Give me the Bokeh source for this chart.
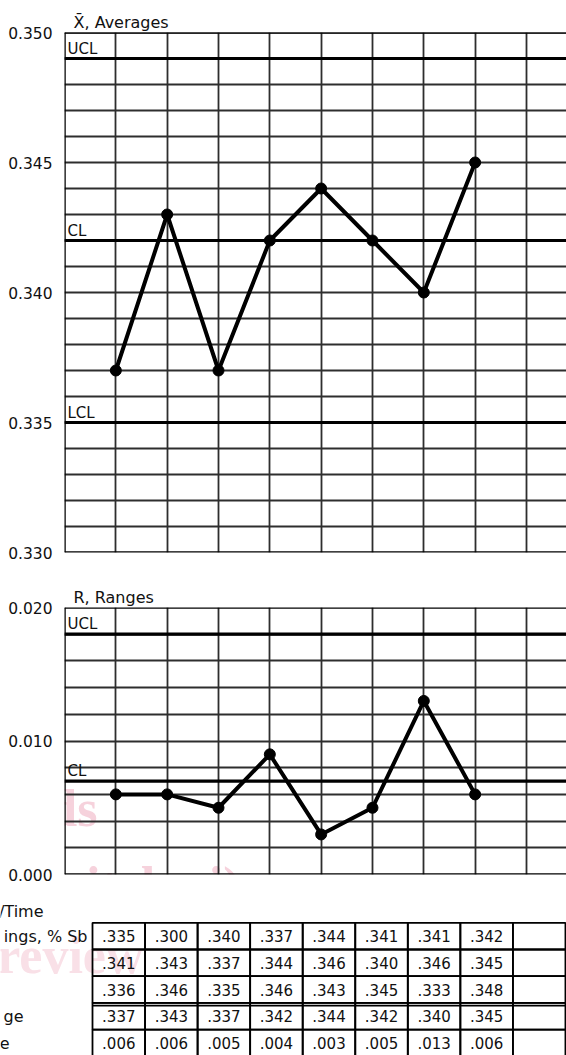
import numpy as np
from bokeh.plotting import figure
from bokeh.models import Range1d, FixedTicker, NumeralTickFormatter, Span, Label
from bokeh.layouts import column
from bokeh.embed import file_html
from bokeh.resources import INLINE
from bokeh.core.properties import value

# ---------------- data ----------------
subgroups = [1, 2, 3, 4, 5, 6, 7, 8]
xbar = [0.337, 0.343, 0.337, 0.342, 0.344, 0.342, 0.340, 0.345]
xbar_limits = {"UCL": 0.349, "CL": 0.342, "LCL": 0.335}
xbar_ticks = [0.330, 0.335, 0.340, 0.345, 0.350]

ranges = [0.006, 0.006, 0.005, 0.009, 0.003, 0.005, 0.013, 0.006]
r_limits = {"UCL": 0.018, "CL": 0.007}
r_ticks = [0.000, 0.010, 0.020]

reading_1 = [0.335, 0.300, 0.340, 0.337, 0.344, 0.341, 0.341, 0.342]
reading_2 = [0.341, 0.343, 0.337, 0.344, 0.346, 0.340, 0.346, 0.345]
reading_3 = [0.336, 0.346, 0.335, 0.346, 0.343, 0.345, 0.333, 0.348]
table_average = [0.337, 0.343, 0.337, 0.342, 0.344, 0.342, 0.340, 0.345]
table_range = [0.006, 0.006, 0.005, 0.004, 0.003, 0.005, 0.013, 0.006]
row_labels = ["/Time", "ings, % Sb", "ge", "e"]
row_label_rows = [-0.42, 0.5, 3.5, 4.5]

# ---------------- style / layout ----------------
FONT = "DejaVu Sans"
TXT = "#111111"
GRID = "#2e2e2e"
W = 566
LEFT = 64
COL_PX = 51.33
N_COLS = 9
row_label_right = [43, 87, 23, 9]   # canvas px of right edges of the (cropped) row labels


def chart(height, top, bottom, y0, y1, step, ticks, title, limits, xs, ys):
    p = figure(width=W, height=height, output_backend="svg", toolbar_location=None,
               x_axis_location=None, min_border_left=LEFT, min_border_right=0,
               min_border_top=top, min_border_bottom=bottom,
               x_range=Range1d(0, (W - LEFT) / COL_PX), y_range=Range1d(y0, y1))
    p.outline_line_color = None
    p.title.text = title
    p.title.align = "left"
    p.title.offset = 9
    p.title.standoff = 2
    p.title.text_font = FONT
    p.title.text_font_size = "16px"
    p.title.text_font_style = "normal"
    p.title.text_color = TXT
    ax = p.yaxis[0]
    ax.ticker = FixedTicker(ticks=ticks)
    ax.formatter = NumeralTickFormatter(format="0.000")
    ax.major_tick_line_color = None
    ax.minor_tick_line_color = None
    ax.axis_line_color = None
    ax.major_label_standoff = 6
    ax.major_label_text_font = FONT
    ax.major_label_text_font_size = "15.5px"
    ax.major_label_text_color = TXT
    n = int(round((y1 - y0) / step))
    p.ygrid.ticker = FixedTicker(ticks=[y0 + i * step for i in range(n + 1)])
    p.xgrid.ticker = FixedTicker(ticks=list(range(1, N_COLS + 1)))
    for g in (p.xgrid[0], p.ygrid[0]):
        g.grid_line_color = GRID
        g.grid_line_width = 1.8
        g.grid_line_alpha = 1.0
    # frame borders (left, top, bottom)
    p.add_layout(Span(location=0, dimension="height", line_color="black", line_width=2.5))
    p.add_layout(Span(location=y1, dimension="width", line_color="black", line_width=2.5))
    p.add_layout(Span(location=y0, dimension="width", line_color="black", line_width=2.5))
    for name, val in limits.items():
        p.add_layout(Span(location=val, dimension="width", line_color="black", line_width=3.2))
        p.add_layout(Label(x=0, y=val, text=name, x_offset=3, y_offset=1,
                           text_baseline="bottom", text_font=FONT,
                           text_font_size="15px", text_color=TXT))
    p.line(xs, ys, line_color="black", line_width=4)
    p.scatter(xs, ys, size=11, color="black")
    return p


p1 = chart(572, 32, 20, 0.330, 0.350, 0.001, xbar_ticks, "X\u0304, Averages",
           xbar_limits, subgroups, xbar)
p2 = chart(318, 35, 16, 0.000, 0.020, 0.002, r_ticks, "R, Ranges",
           r_limits, subgroups, ranges)

WM1 = "#f6d2dc"
WM2 = "#f9e0e7"
for txt, xo, yo in [("iTeh Standards", 33, 66),
                    ("(https://standards.iteh.ai)", 176, -11)]:
    lab = Label(x=0, y=0, text=txt, x_offset=xo, y_offset=yo, text_align="right",
                text_baseline="alphabetic", text_font="Liberation Serif",
                text_font_style="bold", text_font_size="52px", text_color=WM1)
    lab.level = "image"
    p2.add_layout(lab)

# ---------------- table ----------------
TBL_LEFT = 92      # canvas px of table left border
TBL_TOP = 922.3    # canvas px of table top border
CELL_W = 52.55
CELL_H = 26.7
H3 = 165
TOP3 = 572 + 318
p3 = figure(width=W, height=H3, output_backend="svg", toolbar_location=None,
            x_axis_location=None, y_axis_location=None,
            min_border_left=0, min_border_right=0, min_border_top=0, min_border_bottom=0,
            x_range=Range1d(-TBL_LEFT / CELL_W, (W - TBL_LEFT) / CELL_W),
            y_range=Range1d((TOP3 + H3 - TBL_TOP) / CELL_H, -(TBL_TOP - TOP3) / CELL_H))
p3.outline_line_color = None
p3.grid.visible = False

lab = Label(x=0, y=0, text="Document Preview", x_offset=143 - TBL_LEFT, y_offset=-(955 - TBL_TOP),
            text_align="right", text_baseline="alphabetic", text_font="Liberation Serif",
            text_font_style="bold", text_font_size="52px", text_color=WM2)
lab.level = "image"
p3.add_layout(lab)

rows = [reading_1, reading_2, reading_3, table_average, table_range]
cx, cy, ctext = [], [], []
rx, ry = [], []
for r, vals in enumerate(rows):
    for c in range(N_COLS):
        rx.append(c + 0.5)
        ry.append(r + 0.5)
        if c < len(vals):
            cx.append(c + 0.5)
            cy.append(r + 0.5)
            ctext.append(f"{vals[c]:.3f}"[1:])
p3.rect(rx, ry, width=1, height=1, fill_color=None, line_color="black", line_width=1.8)
p3.segment(x0=[0], y0=[3.1], x1=[N_COLS], y1=[3.1], line_color="black", line_width=1.8)
p3.text(cx, cy, text=ctext, text_align="center", text_baseline="middle",
        text_font=value(FONT), text_font_size="15px", text_color=TXT)

for txt, yr, right in zip(row_labels, row_label_rows, row_label_right):
    p3.text([0], [yr], text=[txt], x_offset=right - TBL_LEFT, text_align="right",
            text_baseline="middle", text_font=value(FONT), text_font_size="16px",
            text_color=TXT)

layout = column(column(p1, p2), p3)
open("out.html", "w").write(file_html(layout, INLINE))
